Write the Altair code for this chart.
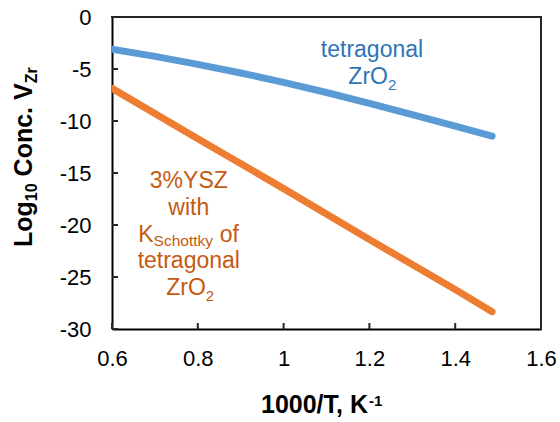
import altair as alt
import pandas as pd

# ---------------- data ----------------
x_tetragonal = [0.6, 0.7, 0.8, 0.9, 1.0, 1.1, 1.2, 1.3, 1.4, 1.486]
y_tetragonal = [-3.10, -3.79, -4.55, -5.38, -6.28, -7.26, -8.30, -9.38, -10.49, -11.46]
x_ysz = [0.6, 0.8, 1.0, 1.2, 1.4, 1.486]
y_ysz = [-6.86, -11.7, -16.5, -21.4, -26.2, -28.33]
series_names = ["tetragonal ZrO2", "3%YSZ"]
line_colors = ["#5B9BD5", "#ED7D31"]
x_ticks = [0.6, 0.8, 1.0, 1.2, 1.4, 1.6]
y_ticks = [0, -5, -10, -15, -20, -25, -30]

X_MIN, X_MAX, Y_MIN, Y_MAX = 0.6, 1.6, -30, 0

FONT = "Liberation Sans"
BLUE_TXT = "#2E75B6"
ORANGE_TXT = "#C55A11"
FRAME_COLOR = "#262626"
W, H = 429, 312
TICK_PX = 6
EDGE_PX = 2

df = pd.concat([
    pd.DataFrame({"x": x_tetragonal, "y": y_tetragonal, "series": series_names[0]}),
    pd.DataFrame({"x": x_ysz, "y": y_ysz, "series": series_names[1]}),
])

# pixel -> data unit conversions for frame / tick decorations
ux = (X_MAX - X_MIN) / W
uy = (Y_MAX - Y_MIN) / H
half_x = ux * EDGE_PX / 2
half_y = uy * EDGE_PX / 2

deco = []
# frame: top edge and right edge (filled strips)
deco.append({"x0": X_MIN - half_x, "x1": X_MAX + half_x, "y0": Y_MAX - half_y, "y1": Y_MAX + half_y})
deco.append({"x0": X_MAX - half_x, "x1": X_MAX + half_x, "y0": Y_MIN - half_y, "y1": Y_MAX + half_y})
# inward ticks
for v in y_ticks:
    deco.append({"x0": X_MIN, "x1": X_MIN + ux * TICK_PX, "y0": v - half_y, "y1": v + half_y})
for v in x_ticks:
    deco.append({"x0": v - half_x, "x1": v + half_x, "y0": Y_MIN, "y1": Y_MIN + uy * TICK_PX})
deco_df = pd.DataFrame(deco)

xs = alt.Scale(domain=[X_MIN, X_MAX], nice=False, zero=False)
ys = alt.Scale(domain=[Y_MIN, Y_MAX], nice=False, zero=False)
xaxis = alt.Axis(values=x_ticks, labelExpr="'' + datum.value", title=None, labelFlush=False,
                 labelPadding=19, ticks=False, domain=True, domainColor="black", domainWidth=2,
                 grid=False)
yaxis = alt.Axis(values=y_ticks, labelExpr="'' + datum.value", title=None, labelFlush=False,
                 labelPadding=21, ticks=False, domain=True, domainColor="black", domainWidth=2,
                 grid=False)


def X(f):
    return alt.X(f, type="quantitative", scale=xs, axis=xaxis)


def Y(f):
    return alt.Y(f, type="quantitative", scale=ys, axis=yaxis)


lines = alt.Chart(df).mark_line(strokeWidth=7, strokeCap="round", strokeJoin="round", clip=True).encode(
    x=X("x"), y=Y("y"),
    color=alt.Color("series:N", scale=alt.Scale(domain=series_names, range=line_colors), legend=None),
)

frame = alt.Chart(deco_df).mark_rect(fill=FRAME_COLOR, strokeWidth=0).encode(
    x=X("x0"), x2="x1:Q", y=Y("y0"), y2="y1:Q")


def dtext(t, x, y, size, color, align="center", dx=0, dy=0):
    return alt.Chart(pd.DataFrame({"t": [t], "x": [x], "y": [y]})).mark_text(
        font=FONT, fontSize=size, color=color, align=align, baseline="alphabetic", dx=dx, dy=dy
    ).encode(x=X("x"), y=Y("y"), text="t:N")


def ptext(t, px, py, size, align="left", dx=0, dy=0, angle=0):
    kw = dict(font=FONT, fontSize=size, fontWeight="bold", color="black", align=align,
              baseline="alphabetic", dx=dx, dy=dy)
    if angle:
        kw["angle"] = angle
    return alt.Chart(pd.DataFrame({"t": [t]})).mark_text(**kw).encode(
        x=alt.value(px), y=alt.value(py), text="t:N")


# annotation: tetragonal ZrO2
bx = 1.206
ann_blue = [
    dtext("tetragonal", bx, -3.82, 23, BLUE_TXT),
    dtext("ZrO", bx, -6.47, 23, BLUE_TXT, align="right", dx=16),
    dtext("2", bx, -6.47, 15, BLUE_TXT, align="left", dx=16, dy=6),
]
# annotation: 3%YSZ
ox = 0.779
ann_orange = [
    dtext("3%YSZ", ox, -16.47, 23, ORANGE_TXT),
    dtext("with", ox, -19.04, 23, ORANGE_TXT),
    dtext("K", ox, -21.61, 23, ORANGE_TXT, align="left", dx=-50.5),
    dtext("Schottky", ox, -21.61, 15.5, ORANGE_TXT, align="left", dx=-35.2, dy=4.5),
    dtext("of", ox, -21.61, 23, ORANGE_TXT, align="left", dx=31),
    dtext("tetragonal", ox, -24.16, 23, ORANGE_TXT),
    dtext("ZrO", ox, -26.73, 23, ORANGE_TXT, align="right", dx=17),
    dtext("2", ox, -26.73, 15, ORANGE_TXT, align="left", dx=17, dy=6),
]

# axis titles (composed for sub/superscripts)
ytitle = [
    ptext("Log", -80, 230, 25, angle=270),
    ptext("10", -80, 230, 16, angle=270, dx=45.8, dy=4.5),
    ptext("Conc. V", -80, 230, 25, angle=270, dx=70.6),
    ptext("Zr", -80, 230, 16, angle=270, dx=163.7, dy=4.5),
]
xtitle = [
    ptext("1000/T, K", 149, 396, 25),
    ptext("-1", 149, 396, 15, dx=108, dy=-7),
]

chart = alt.layer(lines, frame, *ann_blue, *ann_orange, *ytitle, *xtitle).properties(
    width=W, height=H,
    autosize=alt.AutoSizeParams(type="none"),
    padding={"left": 112, "top": 17, "right": 19, "bottom": 93},
).configure_axis(
    labelFont=FONT, labelFontSize=22, labelColor="black"
)

chart.save("out.html", embed_options={"renderer": "svg", "actions": False})
